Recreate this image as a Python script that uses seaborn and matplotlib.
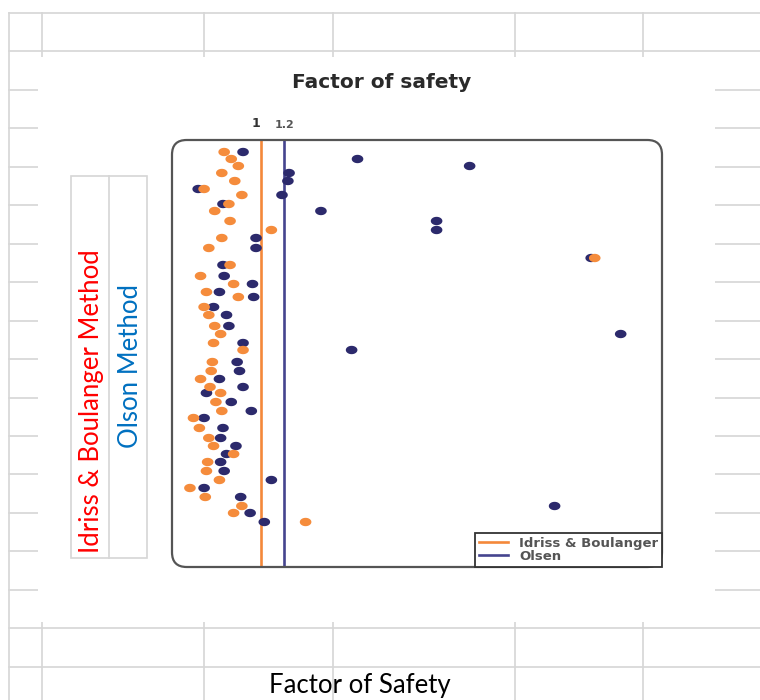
import numpy as np
import pandas as pd
import matplotlib
matplotlib.use("Agg")
import matplotlib.pyplot as plt
import seaborn as sns
from matplotlib.patches import FancyBboxPatch, Rectangle

# layer depths (top to bottom) and factor of safety by each method
depth = [1.2, 1.9, 2.6, 3.3, 4.1, 4.9, 5.5, 6.4, 7.1, 8.1, 9.0, 9.8, 10.8, 11.8,
         12.5, 13.6, 14.4, 15.2, 15.7, 16.7, 17.5, 18.6, 19.4, 20.3, 21.0, 22.2,
         23.1, 23.9, 24.7, 25.3, 26.2, 27.1, 27.8, 28.8, 29.8, 30.6, 31.4, 32.2,
         33.1, 34.0, 34.8, 35.7, 36.6, 37.3, 38.2]
fs_idriss = [0.69, 0.75, 0.81, 0.67, 0.78, 0.52, 0.84, 0.73, 0.61, 0.74, 1.09,
             0.67, 0.56, 3.83, 0.74, 0.49, 0.77, 0.54, 0.81, 0.52, 0.56, 0.61,
             0.66, 0.60, 0.85, 0.59, 0.58, 0.49, 0.57, 0.66, 0.62, 0.67, 0.43,
             0.48, 0.56, 0.60, 0.77, 0.55, 0.54, 0.65, 0.40, 0.53, 0.84, 0.77,
             1.38]
fs_olsen = [0.85, 1.82, 2.77, 1.24, 1.23, 0.47, 1.18, 0.68, 1.51, 2.49, 2.49,
            0.96, 0.96, 3.80, 0.68, 0.69, 0.93, 0.65, 0.94, 0.60, 0.71, 0.73,
            4.05, 0.85, 1.77, 0.80, 0.82, 0.65, 0.85, 0.54, 0.75, 0.92, 0.52,
            0.68, 0.66, 0.79, 0.71, 0.66, 0.69, 1.09, 0.52, 0.83, 3.49, 0.91,
            1.03]
methods = ["Olsen", "Idriss & Boulanger"]
thresholds = [1.2, 1.0]
tick_labels = ["1", "1.2"]

orange = "#F58C3C"
navy = "#2C2A6C"
palette = {"Idriss & Boulanger": orange, "Olsen": navy}
line_colors = {"Idriss & Boulanger": "#F4883A", "Olsen": "#45448E"}

df = pd.concat([
    pd.DataFrame({"depth": depth, "fs": fs_olsen, "method": "Olsen"}),
    pd.DataFrame({"depth": depth, "fs": fs_idriss, "method": "Idriss & Boulanger"}),
])

W, H = 760, 700
fig = plt.figure(figsize=(W / 100, H / 100), dpi=100)

# spreadsheet background
bg = fig.add_axes([0, 0, 1, 1], zorder=0)
bg.set_xlim(0, W)
bg.set_ylim(H, 0)
bg.axis("off")
grid_c = "#d6d6d6"
rows = [13 + 38.45 * k for k in range(18)]
cols = [42, 204, 333, 515, 643]
for r in rows:
    bg.plot([9, W], [r, r], color=grid_c, lw=1.2, zorder=1)
for c in cols:
    bg.plot([c, c], [13, H], color=grid_c, lw=1.2, zorder=1)
bg.plot([9, 9], [13, H], color=grid_c, lw=1.2, zorder=1)
# the pasted chart picture
bg.add_patch(Rectangle((38, 57), 677, 565, facecolor="white", edgecolor="none",
                       zorder=2))
# merged cells with rotated labels
bg.add_patch(Rectangle((71, 176), 76, 382, facecolor="none", edgecolor=grid_c,
                       lw=1.2, zorder=3))
bg.plot([109, 109], [176, 558], color=grid_c, lw=1.2, zorder=3)
bg.text(92, 553, "Idriss & Boulanger Method", rotation=90, color="#FF0000",
        ha="center", va="bottom", fontsize=18.5, family="Lato", zorder=4)
bg.text(130, 366, "Olson Method", rotation=90, color="#0070C0",
        ha="center", va="center", fontsize=18.5, family="Lato", zorder=4)
bg.text(359.5, 686, "Factor of Safety", color="black",
        ha="center", va="center", fontsize=18.5, family="Lato", zorder=4)
bg.text(382, 82, "Factor of safety", color="#2a2a2a", ha="center", va="center",
        fontsize=14.5, fontweight="bold", family="DejaVu Sans", zorder=4)

# chart
ax = fig.add_axes([172 / W, 1 - 567 / H, 490 / W, 427 / H], zorder=2)
ax.patch.set_visible(False)

theta = np.linspace(0, 2 * np.pi, 41)
ellipse = list(zip(np.cos(theta), 0.72 * np.sin(theta)))

sns.scatterplot(data=df, x="fs", y="depth", hue="method", palette=palette,
                marker=ellipse, s=70, linewidth=0, legend=False, ax=ax, zorder=4)

handles = []
for m, t in zip(methods, thresholds):
    ln = ax.axvline(t, color=line_colors[m], lw=1.9, zorder=3, label=m)
    handles.append(ln)

ax.set_xlim(0.248, 4.40)
ax.set_ylim(42.7, 0)
ax.set_xlabel("")
ax.set_ylabel("")
for s in ax.spines.values():
    s.set_visible(False)
ax.set_yticks([])
ax.xaxis.tick_top()
ax.set_xticks(sorted(thresholds))
ax.set_xticklabels(tick_labels)
ax.tick_params(axis="x", length=0, pad=7, colors="#333333")
lbls = ax.get_xticklabels()
lbls[0].set_fontsize(9)
lbls[0].set_fontweight("bold")
lbls[0].set_ha("right")
lbls[1].set_fontsize(8)
lbls[1].set_fontweight("bold")
lbls[1].set_color("#555555")

frame = FancyBboxPatch((0, 0), 1, 1, boxstyle="round,pad=0,rounding_size=0.03",
                       mutation_aspect=490 / 427, transform=ax.transAxes,
                       fill=False, edgecolor="#555555", lw=1.6, clip_on=False,
                       zorder=6)
ax.add_patch(frame)

leg = ax.legend(handles=handles[::-1], loc="lower right", bbox_to_anchor=(1, 0),
                borderaxespad=0, fancybox=False, edgecolor="#333333",
                framealpha=1, handlelength=2.2, labelspacing=0.0,
                borderpad=0.3, handletextpad=0.8,
                prop={"family": "DejaVu Sans", "weight": "bold", "size": 9.5})
leg.get_frame().set_linewidth(1.3)
for t in leg.get_texts():
    t.set_color("#555555")
leg.set_zorder(7)

fig.savefig("out.png", dpi=100)
